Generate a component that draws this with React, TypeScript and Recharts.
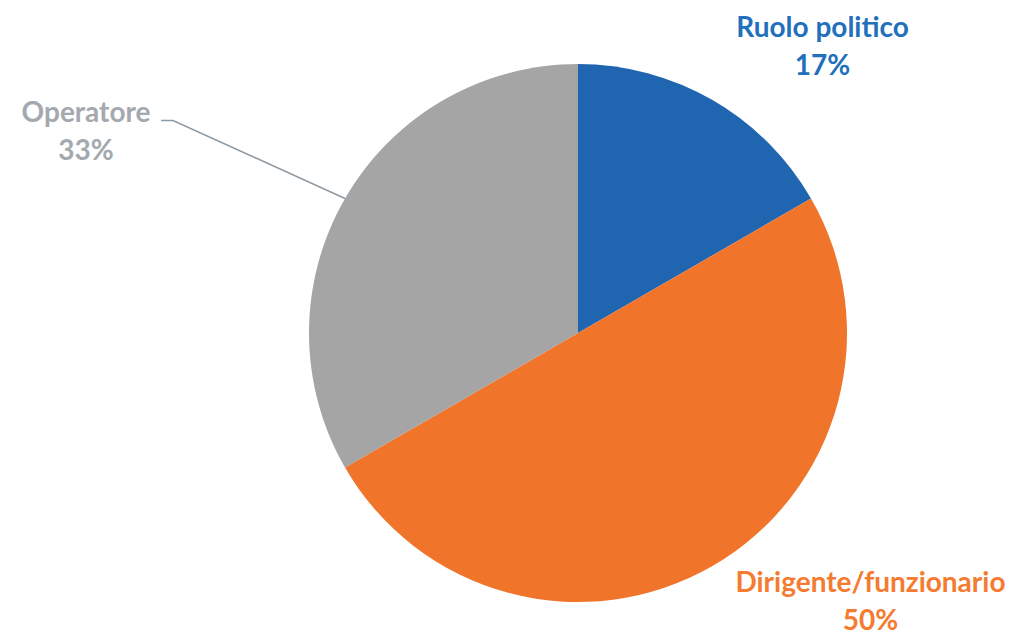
import React from "react";
import { PieChart, Pie, Cell } from "recharts";

const categories = ["Ruolo politico", "Dirigente/funzionario", "Operatore"];
const shares = [16.67, 50, 33.33];
const sliceColors = ["#1F65B0", "#F0742A", "#A5A5A5"];
const labelColors = ["#2270BC", "#F47B30", "#A3A9AE"];

const data = categories.map((name, i) => ({ name, value: shares[i] }));

// label offsets from the slice's outer-edge midpoint (Excel-like placement)
const labelOffset: Record<string, { dx: number; dy: number; line?: boolean }> = {
  "Ruolo politico": { dx: 110, dy: -63 },
  "Dirigente/funzionario": { dx: 158, dy: 26 },
  Operatore: { dx: -259, dy: -76, line: true },
};

const RAD = Math.PI / 180;
const FONT = "Lato, 'Open Sans', sans-serif";

function renderLabel(props: any) {
  const { cx, cy, midAngle, outerRadius, name, percent, index } = props;
  const ex = cx + outerRadius * Math.cos(-midAngle * RAD);
  const ey = cy + outerRadius * Math.sin(-midAngle * RAD);
  const off = labelOffset[name];
  const tx = ex + off.dx;
  const ty = ey + off.dy;
  const color = labelColors[index];
  const pct = `${Math.round(percent * 100)}%`;
  return (
    <g key={name}>
      {off.line && (
        <polyline
          points={`${ex},${ey} ${tx + 87},${ty - 2} ${tx + 75},${ty - 2}`}
          fill="none"
          stroke="#8E9AA3"
          strokeWidth={1.5}
        />
      )}
      <text
        x={tx}
        y={ty}
        textAnchor="middle"
        fill={color}
        fontFamily={FONT}
        fontWeight={700}
        fontSize={28}
      >
        <tspan x={tx} dy={0}>{name}</tspan>
        <tspan x={tx} dy={38}>{pct}</tspan>
      </text>
    </g>
  );
}

export default function App() {
  return (
    <div style={{ position: "absolute", left: 0, top: 0, background: "#fff" }}>
      <PieChart width={1021} height={644}>
        <Pie
          data={data}
          dataKey="value"
          nameKey="name"
          cx={573}
          cy={328}
          outerRadius={269}
          startAngle={90}
          endAngle={-270}
          stroke="none"
          label={renderLabel}
          labelLine={false}
          isAnimationActive={false}
        >
          {data.map((d, i) => (
            <Cell key={d.name} fill={sliceColors[i]} />
          ))}
        </Pie>
      </PieChart>
    </div>
  );
}
